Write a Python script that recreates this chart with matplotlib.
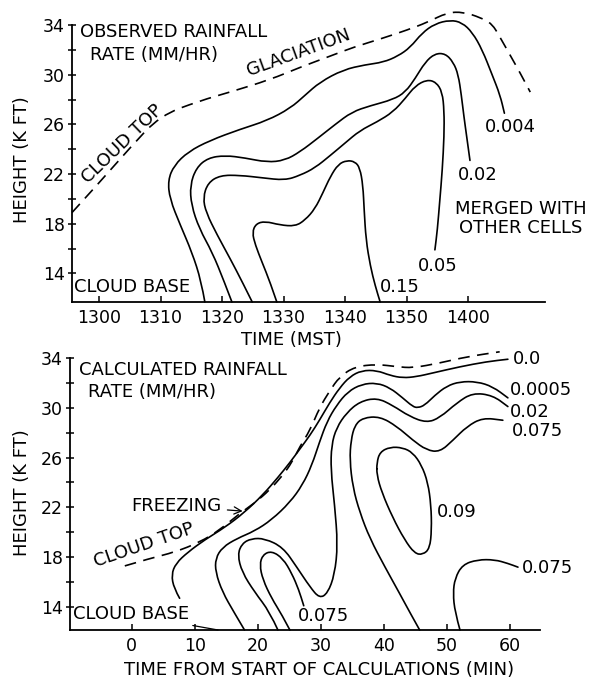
import matplotlib
matplotlib.use('Agg')
import matplotlib.pyplot as plt
from matplotlib.path import Path
from matplotlib.patches import PathPatch

plt.rcParams['font.family'] = 'DejaVu Sans'

# ---- observed panel (time in minutes after 1300 MST, height in kft) ----
obs_xticks = [0, 10, 20, 30, 40, 50, 60]
obs_xticklabels = ['1300', '1310', '1320', '1330', '1340', '1350', '1400']
height_ticks = [14, 18, 22, 26, 30, 34]

obs_cloud_top = [(-4.4, 18.9), (0.2, 21.4), (5.0, 24.1), (9.9, 26.7), (16.4, 27.9),
                 (21.3, 28.6), (27.8, 29.6), (32.7, 30.6), (37.6, 31.5), (41.3, 32.2),
                 (46.2, 32.95), (50.1, 33.6), (53.3, 34.2), (56.6, 35.0), (59.2, 35.05),
                 (62.0, 34.6), (63.9, 34.1), (65.2, 33.0), (66.8, 31.6), (68.5, 30.1),
                 (70.1, 28.6)]

obs_004 = [(17.2, 11.7), (16.6, 13.4), (15.1, 15.7), (13.2, 17.9), (11.5, 20.0),
           (11.2, 21.5), (12.2, 22.7), (14.5, 23.8), (18.0, 24.7), (22.9, 25.6),
           (27.3, 26.3), (31.1, 27.3), (33.5, 28.35), (35.9, 29.4), (39.7, 30.4),
           (43.3, 30.8), (46.2, 31.0), (48.6, 31.5), (50.6, 32.2), (52.5, 33.35),
           (54.6, 34.1), (57.1, 34.4), (59.0, 34.2), (60.7, 33.4), (62.3, 32.0),
           (63.9, 30.0), (65.2, 28.35), (65.9, 26.9)]

obs_02 = [(21.6, 11.7), (20.3, 13.4), (18.4, 15.7), (16.3, 17.6), (15.0, 19.5),
          (14.8, 21.1), (15.8, 22.5), (17.7, 23.3), (20.5, 23.5), (23.7, 23.3),
          (27.3, 22.95), (30.2, 23.1), (32.7, 23.8), (35.6, 24.9), (38.4, 26.0),
          (41.1, 27.0), (44.1, 27.5), (47.8, 28.0), (49.8, 28.6), (51.4, 29.7),
          (53.0, 31.0), (54.6, 31.7), (56.3, 31.7), (57.6, 31.0), (58.4, 30.0),
          (58.9, 28.35), (59.3, 26.7), (59.8, 24.9), (60.3, 23.1)]

obs_05 = [(24.9, 11.7), (23.3, 13.3), (21.3, 15.2), (19.2, 17.1), (17.4, 18.9),
          (16.9, 20.1), (17.7, 21.3), (19.7, 21.9), (22.9, 21.9), (26.5, 21.7),
          (30.2, 21.5), (32.7, 21.9), (35.1, 22.5), (37.6, 23.5), (40.0, 24.5),
          (42.4, 25.5), (45.2, 26.2), (47.8, 27.0), (49.8, 28.1), (51.4, 29.1),
          (53.3, 29.6), (54.8, 29.4), (55.8, 28.6), (56.1, 27.1), (56.1, 25.1),
          (55.8, 22.3), (55.4, 19.9), (55.0, 17.5), (54.6, 15.9)]

obs_15 = [(28.9, 11.7), (27.8, 13.3), (26.5, 14.9), (25.4, 16.3), (24.9, 17.3),
          (25.5, 18.0), (27.0, 18.2), (29.4, 17.9), (31.9, 17.8), (33.5, 18.3),
          (35.1, 19.2), (36.4, 20.5), (37.6, 21.8), (38.9, 22.8), (40.3, 23.1),
          (41.6, 23.0), (42.4, 22.5), (42.9, 21.1), (43.1, 19.1), (43.4, 16.7),
          (44.1, 14.6), (44.9, 13.0), (45.7, 11.7)]

# ---- calculated panel (minutes from start of calculations) ----
calc_xticks = [0, 10, 20, 30, 40, 50, 60]

calc_cloud_top = [(-1.1, 17.3), (2.9, 17.9), (6.8, 18.4), (10.8, 19.2), (14.0, 20.2),
                  (17.1, 21.5), (19.5, 22.35), (21.9, 23.4), (24.0, 24.6), (25.4, 25.6),
                  (26.7, 26.9), (28.3, 28.2), (29.8, 30.0), (31.4, 31.35), (33.0, 32.5),
                  (35.4, 33.3), (38.9, 33.5), (42.1, 33.3), (44.6, 33.2), (48.9, 33.6),
                  (53.2, 34.1), (58.4, 34.5)]

calc_0 = [(7.6, 14.7), (6.7, 15.5), (6.3, 16.6), (7.0, 17.5), (8.9, 18.4), (11.6, 19.4),
          (14.8, 20.4), (17.9, 21.6), (20.8, 23.0), (23.2, 24.4), (25.1, 25.6),
          (26.7, 26.7), (28.3, 27.8), (29.8, 29.0), (31.4, 30.4), (33.0, 31.6),
          (34.6, 32.5), (36.5, 33.0), (38.9, 33.0), (41.0, 32.6), (43.0, 32.4),
          (45.2, 32.5), (47.8, 32.8), (52.1, 33.3), (56.3, 33.7), (59.7, 33.9)]

calc_0005 = [(17.9, 12.15), (16.2, 13.6), (14.4, 15.2), (13.3, 16.8), (13.3, 17.9),
             (14.4, 18.8), (16.7, 19.5), (19.5, 20.1), (22.2, 21.0), (25.1, 22.4),
             (27.1, 23.8), (28.6, 25.4), (29.8, 27.25), (31.0, 28.9), (32.5, 30.2),
             (34.3, 31.3), (36.5, 31.9), (38.9, 32.0), (41.0, 31.6), (43.0, 30.8),
             (44.6, 30.1), (45.4, 30.0), (46.5, 30.2), (48.1, 31.0), (50.0, 31.75),
             (52.1, 32.1), (54.8, 32.1), (57.3, 31.7), (59.7, 30.8)]

calc_02 = [(23.2, 12.15), (21.9, 13.6), (19.5, 15.2), (17.5, 16.8), (16.8, 18.2),
           (17.5, 19.1), (19.0, 19.5), (21.1, 19.5), (24.0, 18.8), (26.2, 17.2),
           (28.3, 15.6), (29.8, 14.7), (31.1, 15.1), (32.2, 16.6), (32.7, 19.0),
           (32.2, 22.2), (31.6, 25.0), (31.7, 27.0), (32.5, 28.4), (34.1, 29.6),
           (36.2, 30.5), (38.9, 30.8), (41.4, 30.2), (44.1, 29.3), (46.8, 28.8),
           (48.9, 29.2), (51.6, 30.4), (54.1, 31.2), (57.3, 31.0), (59.7, 30.1)]

calc_075_upper = [(45.7, 12.15), (44.1, 13.6), (42.5, 15.1), (40.2, 17.2), (37.8, 19.5),
                  (36.2, 21.6), (35.1, 23.6), (34.6, 25.8), (34.8, 27.4), (35.4, 28.6),
                  (36.7, 29.2), (39.4, 29.3), (42.1, 28.5), (44.6, 27.4), (46.8, 26.6),
                  (48.9, 26.45), (51.0, 27.4), (53.2, 28.5), (55.7, 29.2), (58.9, 29.0)]

calc_09 = [(38.9, 25.6), (39.4, 26.45), (41.0, 26.85), (43.0, 26.8), (44.6, 26.4),
           (46.0, 25.4), (47.0, 24.0), (47.5, 22.2), (47.6, 20.2), (47.3, 18.7),
           (46.2, 18.2), (44.9, 18.3), (43.3, 19.4), (41.4, 21.2), (39.7, 23.2),
           (38.9, 24.6)]

calc_075_left = [(25.1, 12.15), (23.8, 13.4), (22.2, 14.7), (20.8, 16.2), (20.3, 17.4),
                 (20.8, 18.2), (22.2, 18.5), (24.0, 17.9), (25.4, 16.7), (26.5, 15.4),
                 (27.3, 14.1)]

calc_075_right = [(52.1, 12.15), (51.3, 13.6), (51.0, 15.1), (51.3, 16.3), (52.5, 17.4),
                  (54.9, 17.8), (57.6, 17.8), (59.7, 17.5), (61.3, 17.2)]


FS = 13
TFS = 12.5
LW = 1.2


def mid(a, b):
    return ((a[0] + b[0]) / 2, (a[1] + b[1]) / 2)


def draw(ax, pts, dashed=False, closed=False):
    # smooth hand-drawn look: points act as quadratic bezier control points
    if closed:
        verts = [mid(pts[-1], pts[0])]
        codes = [Path.MOVETO]
        n = len(pts)
        for i in range(n):
            verts += [pts[i], mid(pts[i], pts[(i + 1) % n])]
            codes += [Path.CURVE3, Path.CURVE3]
    else:
        verts = [pts[0]]
        codes = [Path.MOVETO]
        for i in range(1, len(pts) - 1):
            verts += [pts[i], mid(pts[i], pts[i + 1])]
            codes += [Path.CURVE3, Path.CURVE3]
        verts.append(pts[-1])
        codes.append(Path.LINETO)
    patch = PathPatch(Path(verts, codes), fill=False, edgecolor='black', lw=LW,
                      clip_on=False, capstyle='round', joinstyle='round')
    if dashed:
        patch.set_linestyle((0, (7, 4.5)))
        patch.set_capstyle('butt')
    ax.add_patch(patch)


def style_axes(ax, xticks, xlabels, ylow):
    for side in ['top', 'right']:
        ax.spines[side].set_visible(False)
    for side in ['left', 'bottom']:
        ax.spines[side].set_linewidth(1.3)
    ax.set_ylim(ylow, 34)
    ax.set_yticks(height_ticks)
    ax.set_yticks(range(16, 34, 4), minor=True)
    ax.set_xticks(xticks)
    ax.set_xticklabels(xlabels)
    ax.tick_params(axis='y', which='both', direction='inout', length=6, width=1.1,
                   labelsize=TFS, pad=2)
    ax.tick_params(axis='x', direction='in', length=4, width=1.1, labelsize=TFS, pad=5)


fig = plt.figure(figsize=(6.01, 6.85), dpi=100)

# -------- observed --------
ax1 = fig.add_axes([72 / 601, 1 - 302 / 685, 473 / 601, 277 / 685])
ax1.set_xlim(-4.4, 72.5)
style_axes(ax1, obs_xticks, obs_xticklabels, 11.7)

draw(ax1, obs_cloud_top, dashed=True)
for c in [obs_004, obs_02, obs_05, obs_15]:
    draw(ax1, c)

ax1.text(-3.1, 33.4, 'OBSERVED RAINFALL', fontsize=FS, ha='left', va='center')
ax1.text(-1.5, 31.6, 'RATE (MM/HR)', fontsize=FS, ha='left', va='center')
ax1.text(-4.1, 12.9, 'CLOUD BASE', fontsize=FS, ha='left', va='center')
ax1.text(32.5, 31.8, 'GLACIATION', fontsize=FS, ha='center', va='center', rotation=20)
ax1.text(3.7, 24.4, 'CLOUD TOP', fontsize=FS, ha='center', va='center', rotation=44)
ax1.text(66.8, 25.8, '0.004', fontsize=FS, ha='center', va='center')
ax1.text(61.5, 21.9, '0.02', fontsize=FS, ha='center', va='center')
ax1.text(68.5, 18.4, 'MERGED WITH\nOTHER CELLS', fontsize=FS, ha='center', va='center',
         linespacing=1.1)
ax1.text(55.0, 14.6, '0.05', fontsize=FS, ha='center', va='center')
ax1.text(48.9, 12.9, '0.15', fontsize=FS, ha='center', va='center')

fig.text(291 / 601, 1 - 340 / 685, 'TIME (MST)', fontsize=FS, ha='center', va='center')
fig.text(22 / 601, 1 - 160 / 685, 'HEIGHT (K FT)', fontsize=FS, ha='center', va='center',
         rotation=90)

# -------- calculated --------
ax2 = fig.add_axes([70 / 601, 1 - 630 / 685, 470 / 601, 272 / 685])
ax2.set_xlim(-9.8, 64.8)
style_axes(ax2, calc_xticks, [str(v) for v in calc_xticks], 12.15)

draw(ax2, calc_cloud_top, dashed=True)
for c in [calc_0, calc_0005, calc_02, calc_075_upper, calc_075_left, calc_075_right]:
    draw(ax2, c)
draw(ax2, calc_09, closed=True)

ax2.text(-8.3, 33.0, 'CALCULATED RAINFALL', fontsize=FS, ha='left', va='center')
ax2.text(-7.0, 31.3, 'RATE (MM/HR)', fontsize=FS, ha='left', va='center')
ax2.annotate('FREEZING', xy=(17.6, 21.7), xytext=(14.3, 22.1), fontsize=FS,
             ha='right', va='center',
             arrowprops=dict(arrowstyle='->', lw=0.9, color='black', shrinkA=2, shrinkB=0))
ax2.text(1.9, 19.0, 'CLOUD TOP', fontsize=FS, ha='center', va='center', rotation=19)
ax2.annotate('CLOUD BASE', xy=(13.7, 12.15), xytext=(-9.4, 13.4), fontsize=FS,
             ha='left', va='center',
             arrowprops=dict(arrowstyle='-', lw=0.9, color='black', shrinkA=1, shrinkB=0))
ax2.text(60.5, 33.9, '0.0', fontsize=FS, ha='left', va='center')
ax2.text(60.0, 31.4, '0.0005', fontsize=FS, ha='left', va='center')
ax2.text(60.0, 29.7, '0.02', fontsize=FS, ha='left', va='center')
ax2.text(60.3, 28.1, '0.075', fontsize=FS, ha='left', va='center')
ax2.text(48.4, 21.6, '0.09', fontsize=FS, ha='left', va='center')
ax2.text(61.9, 17.1, '0.075', fontsize=FS, ha='left', va='center')
ax2.text(26.3, 13.3, '0.075', fontsize=FS, ha='left', va='center')

fig.text(319 / 601, 1 - 670 / 685, 'TIME FROM START OF CALCULATIONS (MIN)', fontsize=FS,
         ha='center', va='center')
fig.text(22 / 601, 1 - 493 / 685, 'HEIGHT (K FT)', fontsize=FS, ha='center', va='center',
         rotation=90)

fig.savefig('out.png', dpi=100)
